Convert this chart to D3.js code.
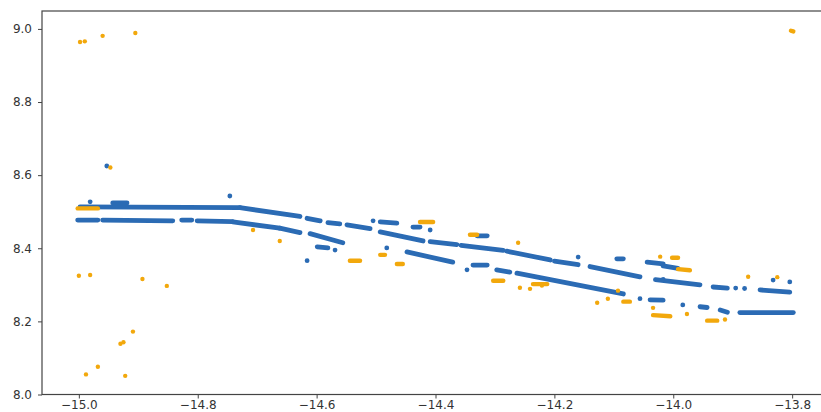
<!DOCTYPE html>
<html>
<head>
<meta charset="utf-8">
<script src="https://cdn.jsdelivr.net/npm/d3@7"></script>
<style>
    body { margin: 0; background: #fff; }
    #chart text { font-family: "DejaVu Sans", sans-serif; font-size: 12px; fill: #333; }
</style>
</head>
<body>
<div id="chart"></div>
<script>

// tick values
let xTicks = [-15.0, -14.8, -14.6, -14.4, -14.2, -14.0, -13.8];
let yTicks = [8.0, 8.2, 8.4, 8.6, 8.8, 9.0];

// blue series: dense runs of points [xStart, yStart, xEnd, yEnd]
let blueRuns = [
    [-14.998, 8.513, -14.729, 8.511],
    [-14.943, 8.524, -14.919, 8.524],
    [-14.729, 8.511, -14.628, 8.487],
    [-14.616, 8.482, -14.594, 8.475],
    [-14.581, 8.470, -14.561, 8.467],
    [-14.549, 8.464, -14.510, 8.454],
    [-14.493, 8.445, -14.421, 8.420],
    [-14.409, 8.418, -14.364, 8.410],
    [-14.357, 8.408, -14.286, 8.394],
    [-14.280, 8.392, -14.207, 8.368],
    [-14.200, 8.365, -14.160, 8.355],
    [-14.140, 8.350, -14.056, 8.322],
    [-14.030, 8.314, -13.955, 8.300],
    [-13.933, 8.294, -13.909, 8.291],
    [-13.854, 8.286, -13.804, 8.280],
    [-14.493, 8.472, -14.465, 8.469],
    [-14.438, 8.458, -14.426, 8.458],
    [-14.330, 8.434, -14.313, 8.434],
    [-14.095, 8.371, -14.084, 8.371],
    [-14.044, 8.362, -14.017, 8.357],
    [-14.017, 8.352, -13.992, 8.345],
    [-15.002, 8.477, -14.968, 8.477],
    [-14.960, 8.477, -14.842, 8.475],
    [-14.827, 8.477, -14.810, 8.477],
    [-14.801, 8.475, -14.741, 8.473],
    [-14.741, 8.472, -14.662, 8.455],
    [-14.662, 8.455, -14.628, 8.443],
    [-14.611, 8.440, -14.556, 8.415],
    [-14.599, 8.404, -14.581, 8.401],
    [-14.448, 8.390, -14.371, 8.362],
    [-14.337, 8.354, -14.313, 8.354],
    [-14.297, 8.341, -14.275, 8.335],
    [-14.263, 8.332, -14.084, 8.275],
    [-14.039, 8.259, -14.017, 8.258],
    [-13.955, 8.240, -13.943, 8.238],
    [-13.921, 8.231, -13.909, 8.225],
    [-13.888, 8.224, -13.798, 8.224]
];

// blue series: isolated points [x, y]
let blueDots = [
    [-14.953, 8.625], [-14.981, 8.527], [-14.746, 8.543], [-14.505, 8.475],
    [-14.409, 8.450], [-14.160, 8.376], [-14.017, 8.315], [-13.832, 8.313],
    [-13.804, 8.308], [-13.895, 8.291], [-13.880, 8.290], [-14.569, 8.395],
    [-14.616, 8.366], [-14.482, 8.401], [-14.347, 8.341], [-14.056, 8.262],
    [-13.984, 8.245]
];

// orange series: short runs [xStart, yStart, xEnd, yEnd]
let orangeRuns = [
    [-15.002, 8.509, -14.968, 8.509],
    [-14.426, 8.472, -14.404, 8.472],
    [-14.342, 8.437, -14.330, 8.437],
    [-14.544, 8.366, -14.527, 8.366],
    [-14.493, 8.382, -14.485, 8.382],
    [-14.465, 8.357, -14.455, 8.357],
    [-14.303, 8.311, -14.286, 8.311],
    [-14.236, 8.302, -14.212, 8.302],
    [-14.084, 8.254, -14.073, 8.254],
    [-14.002, 8.374, -13.992, 8.374],
    [-13.992, 8.343, -13.972, 8.340],
    [-14.034, 8.217, -14.005, 8.214],
    [-13.943, 8.202, -13.926, 8.202],
    [-13.802, 8.995, -13.798, 8.993]
];

// orange series: isolated points [x, y]
let orangeDots = [
    [-14.998, 8.964], [-14.990, 8.966], [-14.960, 8.981], [-14.905, 8.989],
    [-14.947, 8.621],
    [-15.000, 8.325], [-14.981, 8.327], [-14.893, 8.316], [-14.852, 8.297],
    [-14.909, 8.172], [-14.930, 8.139], [-14.925, 8.143], [-14.968, 8.076],
    [-14.988, 8.055], [-14.922, 8.051],
    [-14.707, 8.450], [-14.662, 8.420], [-14.261, 8.415],
    [-14.258, 8.292], [-14.241, 8.289], [-14.221, 8.298],
    [-14.128, 8.251], [-14.110, 8.262], [-14.093, 8.284],
    [-14.022, 8.377], [-14.034, 8.237], [-13.977, 8.220], [-13.913, 8.205],
    [-13.874, 8.322], [-13.825, 8.321]
];

class ScatterChart {

    constructor(width, height)
    {
        this.width = width;
        this.height = height;
        this.left = 42;
        this.top = 11;
        this.bottom = 394.5;
        this.right = 829;
        this.blue = "#2b6bb4";
        this.orange = "#f2a80c";

        this.x = d3.scaleLinear().domain([-15.062, -13.738]).range([this.left, this.right]);
        this.y = d3.scaleLinear().domain([8.0, 9.049]).range([this.bottom, this.top]);
    }

    draw()
    {
        let svg = d3.select("#chart").append("svg")
            .attr("width", this.width)
            .attr("height", this.height);

        svg.append("defs").append("clipPath").attr("id", "plotClip")
            .append("rect")
            .attr("x", this.left).attr("y", this.top)
            .attr("width", this.right - this.left).attr("height", this.bottom - this.top);

        this.drawData(svg);
        this.drawAxes(svg);
    }

    drawData(svg)
    {
        let that = this;
        let g = svg.append("g").attr("clip-path", "url(#plotClip)");

        let series = [
            {runs: blueRuns, dots: blueDots, color: this.blue, width: 4.8},
            {runs: orangeRuns, dots: orangeDots, color: this.orange, width: 4.4}
        ];

        series.forEach(s => {
            g.append("g").selectAll("line")
                .data(s.runs)
                .join("line")
                .attr("x1", d => that.x(d[0]))
                .attr("y1", d => that.y(d[1]))
                .attr("x2", d => that.x(d[2]))
                .attr("y2", d => that.y(d[3]))
                .attr("stroke", s.color)
                .attr("stroke-width", s.width)
                .attr("stroke-linecap", "round");

            g.append("g").selectAll("circle")
                .data(s.dots)
                .join("circle")
                .attr("cx", d => that.x(d[0]))
                .attr("cy", d => that.y(d[1]))
                .attr("r", s.width / 2)
                .attr("fill", s.color);
        });
    }

    drawAxes(svg)
    {
        let fmt = d => d3.format(".1f")(d).replace("-", "\u2212");

        let xAxis = d3.axisBottom(this.x).tickValues(xTicks).tickFormat(fmt).tickSize(4).tickPadding(1.5);
        let yAxis = d3.axisLeft(this.y).tickValues(yTicks).tickFormat(fmt).tickSize(4).tickPadding(6);

        let gx = svg.append("g").attr("transform", `translate(0,${this.bottom})`).call(xAxis);
        let gy = svg.append("g").attr("transform", `translate(${this.left},0)`).call(yAxis);

        [gx, gy].forEach(g => {
            g.select(".domain").remove();
            g.selectAll(".tick line").attr("stroke", "#444").attr("stroke-width", 1);
        });
        gx.selectAll("text").attr("font-size", 12);
        gy.selectAll("text").attr("font-size", 12.5);

        // frame (right side runs off the picture)
        svg.append("rect")
            .attr("x", this.left).attr("y", this.top)
            .attr("width", this.right - this.left).attr("height", this.bottom - this.top)
            .attr("fill", "none")
            .attr("stroke", "#444")
            .attr("stroke-width", 1.2);
    }
}

let chart = new ScatterChart(821, 412);
chart.draw();

</script>
</body>
</html>
